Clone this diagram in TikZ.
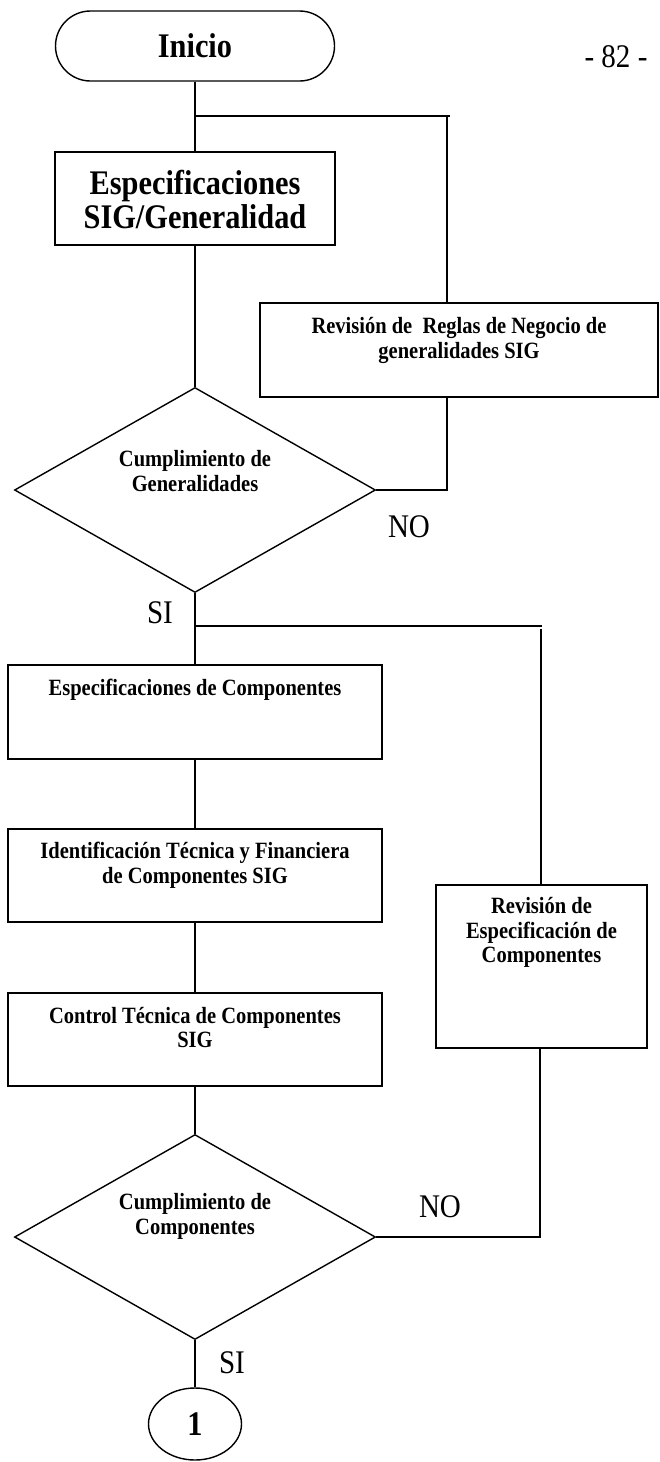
\documentclass[tikz,border=0pt]{standalone}
\usepackage{fontspec}
\setmainfont{Liberation Serif}
\newfontfamily\cnd{Liberation Serif}[FakeStretch=0.88]
\usetikzlibrary{shapes.geometric,shapes.misc}
\tikzset{
  ln/.style={line width=1.4pt},
  term/.style={draw, line width=1.4pt, rounded rectangle, minimum width=279pt, minimum height=70pt, inner sep=0pt},
  boxn/.style={draw, line width=1.4pt, rectangle, inner sep=0pt},
  dec/.style={draw, line width=1.4pt, diamond, minimum width=361pt, minimum height=205pt, inner sep=0pt},
  conn/.style={draw, line width=1.4pt, ellipse, minimum width=93pt, minimum height=72pt, inner sep=0pt},
  bigtxt/.style={font={\cnd\fontsize{34.5}{34}\selectfont\bfseries}, align=center, inner sep=0pt},
  smalltxt/.style={font={\cnd\fontsize{23.3}{24.7}\selectfont\bfseries}, align=center, inner sep=0pt},
  lbl/.style={font={\cnd\fontsize{33}{30}\selectfont}, inner sep=0pt},
}
\begin{document}
\begin{tikzpicture}[x=1pt,y=-1pt]
\useasboundingbox (0,0) rectangle (659,1462);
% page number
\node[font={\cnd\fontsize{33}{30}\selectfont}, inner sep=0pt] (pg) at (616,57) {- 82 -};
% shapes
\node[term, font={\cnd\fontsize{34.5}{32}\selectfont\bfseries}] (inicio) at (195,46) {Inicio};
\node[boxn, minimum width=280pt, minimum height=93pt] (b1) at (195,198.5) {};
\node[bigtxt] (t1) at (195,200) {Especificaciones\\SIG/Generalidad};
\node[boxn, minimum width=398pt, minimum height=94pt] (b2) at (459,350) {};
\node[smalltxt] (t2) at (459,340.5) {Revisión de\ \ Reglas de Negocio de\\generalidades SIG};
\node[dec] (d1) at (195,490) {};
\node[smalltxt] (td1) at (195,471) {Cumplimiento de\\Generalidades};
\node[boxn, minimum width=374pt, minimum height=94pt] (b3) at (195,712) {};
\node[smalltxt] (t3) at (195,690) {Especificaciones de Componentes};
\node[boxn, minimum width=374pt, minimum height=93pt] (b4) at (195,875.5) {};
\node[smalltxt] (t4) at (195,865) {Identificación Técnica y Financiera\\de Componentes SIG};
\node[boxn, minimum width=374pt, minimum height=93pt] (b5) at (195,1039.5) {};
\node[smalltxt] (t5) at (195,1027.5) {Control Técnica de Componentes\\SIG};
\node[boxn, minimum width=211pt, minimum height=163pt] (b6) at (541.5,966.5) {};
\node[smalltxt] (t6) at (541.5,932.5) {Revisión de\\Especificación de\\Componentes};
\node[dec] (d2) at (195,1237) {};
\node[smalltxt] (td2) at (195,1216.5) {Cumplimiento de\\Componentes};
\node[conn, font={\cnd\fontsize{34.5}{32}\selectfont\bfseries}] (c1) at (195,1424) {1};
% labels
\node[lbl] (no1) at (409,527) {NO};
\node[lbl] (si1) at (160,613) {SI};
\node[lbl] (no2) at (440,1207) {NO};
\node[lbl] (si2) at (232,1363) {SI};
% junction coordinates
\coordinate (j1) at (195,116);
\coordinate (j1r) at (450,116);
\coordinate (k1) at (447,116);
\coordinate (k2) at (447,490);
\coordinate (j2) at (195,626);
\coordinate (j2r) at (542,626);
\coordinate (k3) at (541,629);
\coordinate (k4) at (540,1237);
% connectors
\draw[ln] (inicio.south) -- (b1.north);
\draw[ln] (j1) -- (j1r);
\draw[ln] (k1) -- (k1 |- b2.north);
\draw[ln] (b1.south) -- (d1.north);
\draw[ln] (d1.east) -- (k2) -- (k2 |- b2.south);
\draw[ln] (d1.south) -- (b3.north);
\draw[ln] (j2) -- (j2r);
\draw[ln] (k3) -- (k3 |- b6.north);
\draw[ln] (b3.south) -- (b4.north);
\draw[ln] (b4.south) -- (b5.north);
\draw[ln] (b5.south) -- (d2.north);
\draw[ln] (d2.east) -- (k4) -- (k4 |- b6.south);
\draw[ln] (d2.south) -- (c1.north);
\end{tikzpicture}
\end{document}
